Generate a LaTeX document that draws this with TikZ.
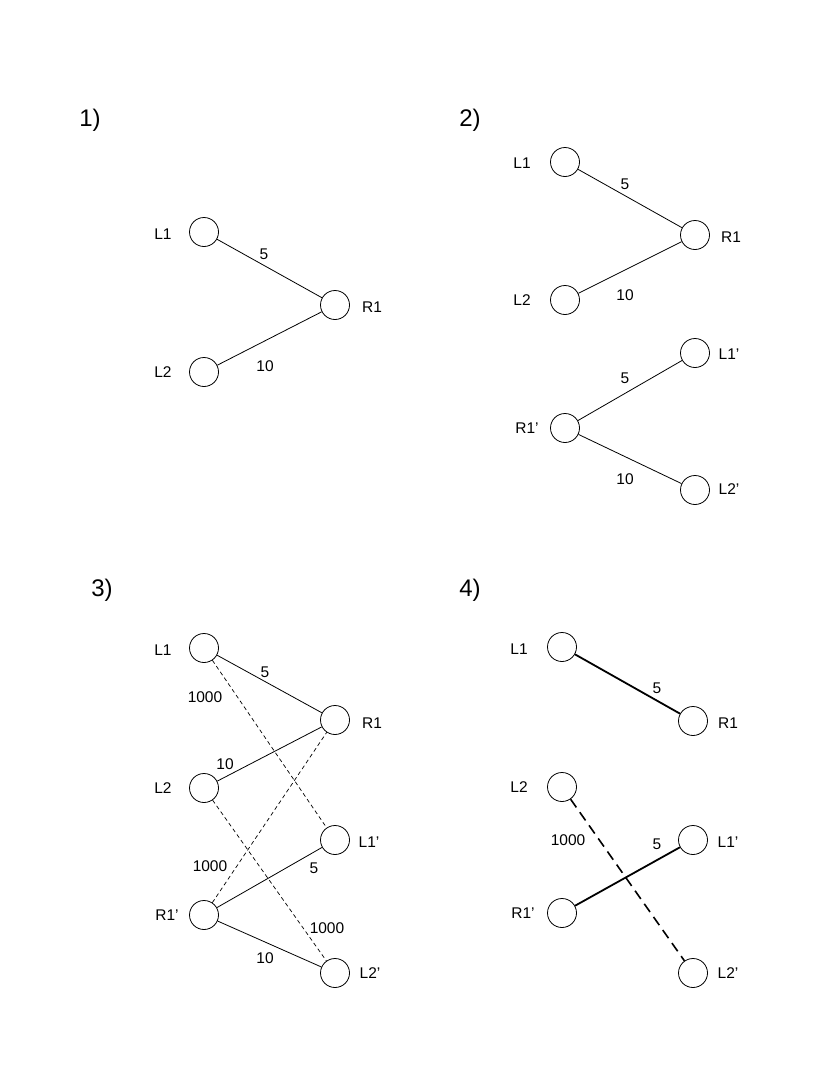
\documentclass[tikz,border=0pt]{standalone}
\usepackage{fontspec}
\setmainfont{Liberation Sans}
\usetikzlibrary{positioning}

\begin{document}
\begin{tikzpicture}[
  x=1pt, y=-1pt,
  font=\fontsize{15.5}{18}\selectfont,
  vert/.style={draw, circle, minimum size=29pt, inner sep=0pt, line width=0.8pt},
  tag/.style={inner sep=1pt},
  weight/.style={inner sep=1pt},
  panel/.style={font=\fontsize{24}{26}\selectfont},
  edge/.style={line width=0.8pt},
  match/.style={line width=1.8pt},
  cheap/.style={line width=0.7pt, dash pattern=on 4pt off 3pt},
  drop/.style={line width=1.6pt, dash pattern=on 10pt off 6pt},
]
\path[use as bounding box] (0,0) rectangle (820,1079);

% 1)
\node[panel] (p1) at (90,120) {1)};
\node[vert] (a-l1) at (204,232) {};
\node[vert] (a-l2) at (204,372) {};
\node[vert] (a-r1) at (335,305) {};
\node[tag] at (163,234) {L1};
\node[tag] at (163,372) {L2};
\node[tag] at (372,307) {R1};
\draw[edge] (a-l1) -- (a-r1);
\draw[edge] (a-l2) -- (a-r1);
\node[weight] at (264,254) {5};
\node[weight] at (265,366) {10};

% 2)
\node[panel] (p2) at (470,120) {2)};
\node[vert] (b-l1) at (565,162) {};
\node[vert] (b-r1) at (695,235) {};
\node[vert] (b-l2) at (565,300) {};
\node[vert] (b-l1p) at (695,353) {};
\node[vert] (b-r1p) at (565,428) {};
\node[vert] (b-l2p) at (695,490) {};
\node[tag] at (522,163) {L1};
\node[tag] at (731,237) {R1};
\node[tag] at (522,300) {L2};
\node[tag] at (729,354) {L1’};
\node[tag] at (527,428) {R1’};
\node[tag] at (729,489) {L2’};
\draw[edge] (b-l1) -- (b-r1);
\draw[edge] (b-l2) -- (b-r1);
\draw[edge] (b-r1p) -- (b-l1p);
\draw[edge] (b-r1p) -- (b-l2p);
\node[weight] at (625,184) {5};
\node[weight] at (625,295) {10};
\node[weight] at (625,378) {5};
\node[weight] at (625,479) {10};

% 3)
\node[panel] (p3) at (102,590) {3)};
\node[vert] (c-l1) at (204,648) {};
\node[vert] (c-r1) at (335,720) {};
\node[vert] (c-l2) at (204,788) {};
\node[vert] (c-l1p) at (335,840) {};
\node[vert] (c-r1p) at (204,915) {};
\node[vert] (c-l2p) at (335,973) {};
\node[tag] at (163,650) {L1};
\node[tag] at (372,723) {R1};
\node[tag] at (163,788) {L2};
\node[tag] at (369,842) {L1’};
\node[tag] at (167,915) {R1’};
\node[tag] at (370,973) {L2’};
\draw[edge] (c-l1) -- (c-r1);
\draw[edge] (c-l2) -- (c-r1);
\draw[edge] (c-r1p) -- (c-l1p);
\draw[edge] (c-r1p) -- (c-l2p);
\draw[cheap] (c-l1) -- (c-l1p);
\draw[cheap] (c-l2) -- (c-l2p);
\draw[cheap] (c-r1p) -- (c-r1);
\node[weight] at (265,672) {5};
\node[weight] at (205,697) {1000};
\node[weight] at (225,764) {10};
\node[weight] at (210,866) {1000};
\node[weight] at (314,868) {5};
\node[weight] at (327,928) {1000};
\node[weight] at (265,958) {10};

% 4)
\node[panel] (p4) at (470,590) {4)};
\node[vert] (d-l1) at (562,647) {};
\node[vert] (d-r1) at (693,721) {};
\node[vert] (d-l2) at (562,787) {};
\node[vert] (d-l1p) at (693,840) {};
\node[vert] (d-r1p) at (562,913) {};
\node[vert] (d-l2p) at (693,973) {};
\node[tag] at (519,649) {L1};
\node[tag] at (728,723) {R1};
\node[tag] at (519,787) {L2};
\node[tag] at (728,842) {L1’};
\node[tag] at (523,913) {R1’};
\node[tag] at (728,973) {L2’};
\draw[match] (d-l1) -- (d-r1);
\draw[match] (d-r1p) -- (d-l1p);
\draw[drop] (d-l2) -- (d-l2p);
\node[weight] at (657,688) {5};
\node[weight] at (568,840) {1000};
\node[weight] at (657,844) {5};

\end{tikzpicture}
\end{document}
